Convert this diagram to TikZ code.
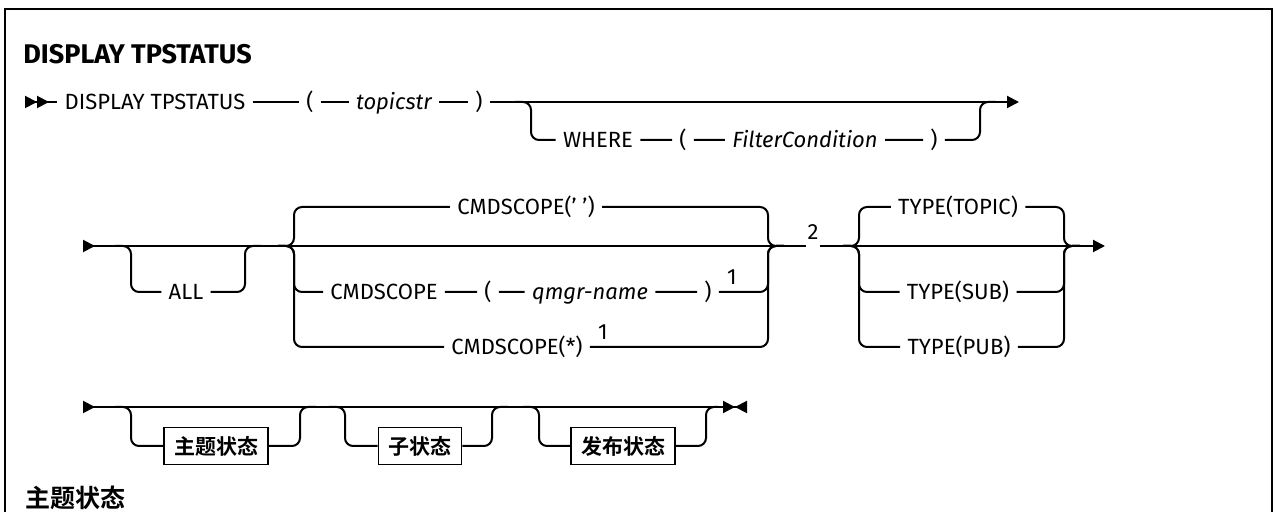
\documentclass[tikz,border=0pt]{standalone}
\usepackage{fontspec}
\setsansfont{Fira Sans}
\newfontfamily\cjk{Noto Sans CJK SC}[BoldFont={* Bold}]
\usetikzlibrary{arrows.meta,positioning,calc}

\begin{document}
\begin{tikzpicture}[
  x=0.5pt, y=-0.5pt,
  rail/.style={line width=1pt, rounded corners=4pt},
  kw/.style={font=\sffamily\fontsize{11}{13}\selectfont, text height=7.6pt, text depth=0pt, inner xsep=3.5pt, inner ysep=1pt},
  var/.style={kw, font=\sffamily\itshape\fontsize{11}{13}\selectfont},
  num/.style={kw, inner sep=1pt},
  ref/.style={draw, line width=0.8pt, font=\cjk\bfseries\fontsize{10.5}{12}\selectfont, minimum height=18.5pt, inner xsep=5pt},
  tri/.tip={Triangle[length=6pt, width=6pt]},
  rtri/.tip={Triangle[reversed, length=6pt, width=6pt]}
]
  \useasboundingbox (0,0) rectangle (1276,512);
  \draw[line width=1.2pt] (5,512) -- (5,9) -- (1272,9) -- (1272,512);

  \node[anchor=west, inner sep=0, font=\sffamily\bfseries\fontsize{13.5}{16}\selectfont] (title) at (23,54) {DISPLAY TPSTATUS};

  % first line
  \coordinate (s1) at (25,102);
  \coordinate (e1) at (1019,102);
  \coordinate (j1) at (531,102);
  \coordinate (j2) at (980,102);
  \node[kw] (cmd) at (155,102) {DISPLAY TPSTATUS};
  \node[kw] (lp1) at (310,102) {(};
  \node[var] (topic) at (394,102) {topicstr};
  \node[kw] (rp1) at (479,102) {)};
  \node[kw] (where) at (598,140) {WHERE};
  \node[kw] (lp2) at (683,140) {(};
  \node[var] (filt) at (805,140) {FilterCondition};
  \node[kw] (rp2) at (934,140) {)};
  \draw[rail, {rtri[sep=0pt]rtri}-] (s1) -- (cmd);
  \draw[rail] (cmd) -- (lp1) -- (topic) -- (rp1);
  \draw[rail, -tri] (rp1) -- (e1);
  \draw[rail] ($(j1)+(-16,0)$) -- (j1) -- (j1 |- where) -- (where) -- (lp2) -- (filt) -- (rp2) -- (j2 |- rp2) -- (j2) -- ($(j2)+(16,0)$);

  % second line
  \coordinate (s2) at (83,246);
  \coordinate (a1) at (131,246);
  \coordinate (a2) at (245,246);
  \coordinate (c1) at (294,246);
  \coordinate (c2) at (768,246);
  \coordinate (g1) at (806,246);
  \coordinate (g2) at (820,246);
  \coordinate (t1) at (859,246);
  \coordinate (t2) at (1064,246);
  \coordinate (e2) at (1105,246);
  \node[kw] (all) at (186,292) {ALL};
  \node[kw] (cs0) at (526,207) {CMDSCOPE(' ')};
  \node[kw] (cs1) at (384,292) {CMDSCOPE};
  \node[kw] (lp3) at (488,292) {(};
  \node[var] (qm) at (590,292) {qmgr-name};
  \node[kw] (rp3) at (708,292) {)};
  \node[num] (n1) at (732,277) {1};
  \node[kw] (cs2) at (517,347) {CMDSCOPE(*)};
  \node[num] (n2) at (603,332) {1};
  \node[num] (n3) at (813,232) {2};
  \node[kw] (ty0) at (958,207) {TYPE(TOPIC)};
  \node[kw] (ty1) at (958,292) {TYPE(SUB)};
  \node[kw] (ty2) at (959,347) {TYPE(PUB)};
  \draw[rail, rtri-] (s2) -- (g1);
  \draw[rail, -tri] (g2) -- (e2);
  \draw[rail] ($(a1)+(-16,0)$) -- (a1) -- (a1 |- all) -- (all) -- (a2 |- all) -- (a2) -- ($(a2)+(16,0)$);
  \draw[rail] ($(c1)+(-16,0)$) -- (c1) -- (c1 |- cs0) -- (cs0) -- (c2 |- cs0) -- (c2) -- ($(c2)+(16,0)$);
  \draw[rail] ($(c1)+(-16,0)$) -- (c1) -- (c1 |- cs1) -- (cs1) -- (lp3) -- (qm) -- (rp3) -- (c2 |- rp3) -- (c2) -- ($(c2)+(16,0)$);
  \draw[rail] ($(c1)+(-16,0)$) -- (c1) -- (c1 |- cs2) -- (cs2) -- (c2 |- cs2) -- (c2) -- ($(c2)+(16,0)$);
  \draw[rail] ($(t1)+(-16,0)$) -- (t1) -- (t1 |- ty0) -- (ty0) -- (t2 |- ty0) -- (t2) -- ($(t2)+(16,0)$);
  \draw[rail] ($(t1)+(-16,0)$) -- (t1) -- (t1 |- ty1) -- (ty1) -- (t2 |- ty1) -- (t2) -- ($(t2)+(16,0)$);
  \draw[rail] ($(t1)+(-16,0)$) -- (t1) -- (t1 |- ty2) -- (ty2) -- (t2 |- ty2) -- (t2) -- ($(t2)+(16,0)$);

  % third line
  \coordinate (s3) at (83,407);
  \coordinate (e3) at (747,407);
  \coordinate (b1l) at (131,407);
  \coordinate (b1r) at (300,407);
  \coordinate (b2l) at (345,407);
  \coordinate (b2r) at (492,407);
  \coordinate (b3l) at (539,407);
  \coordinate (b3r) at (706,407);
  \node[ref] (st1) at (216,446) {主题状态};
  \node[ref] (st2) at (420,446) {子状态};
  \node[ref] (st3) at (623,446) {发布状态};
  \draw[rail, rtri-{tri[sep=0pt]rtri}] (s3) -- (e3);
  \draw[rail] ($(b1l)+(-16,0)$) -- (b1l) -- (b1l |- st1) -- (st1) -- (b1r |- st1) -- (b1r) -- ($(b1r)+(16,0)$);
  \draw[rail] ($(b2l)+(-16,0)$) -- (b2l) -- (b2l |- st2) -- (st2) -- (b2r |- st2) -- (b2r) -- ($(b2r)+(16,0)$);
  \draw[rail] ($(b3l)+(-16,0)$) -- (b3l) -- (b3l |- st3) -- (st3) -- (b3r |- st3) -- (b3r) -- ($(b3r)+(12,0)$);

  \node[anchor=west, inner sep=0, font=\cjk\bfseries\fontsize{12.5}{15}\selectfont] (sub) at (25,498) {主题状态};
\end{tikzpicture}
\end{document}
